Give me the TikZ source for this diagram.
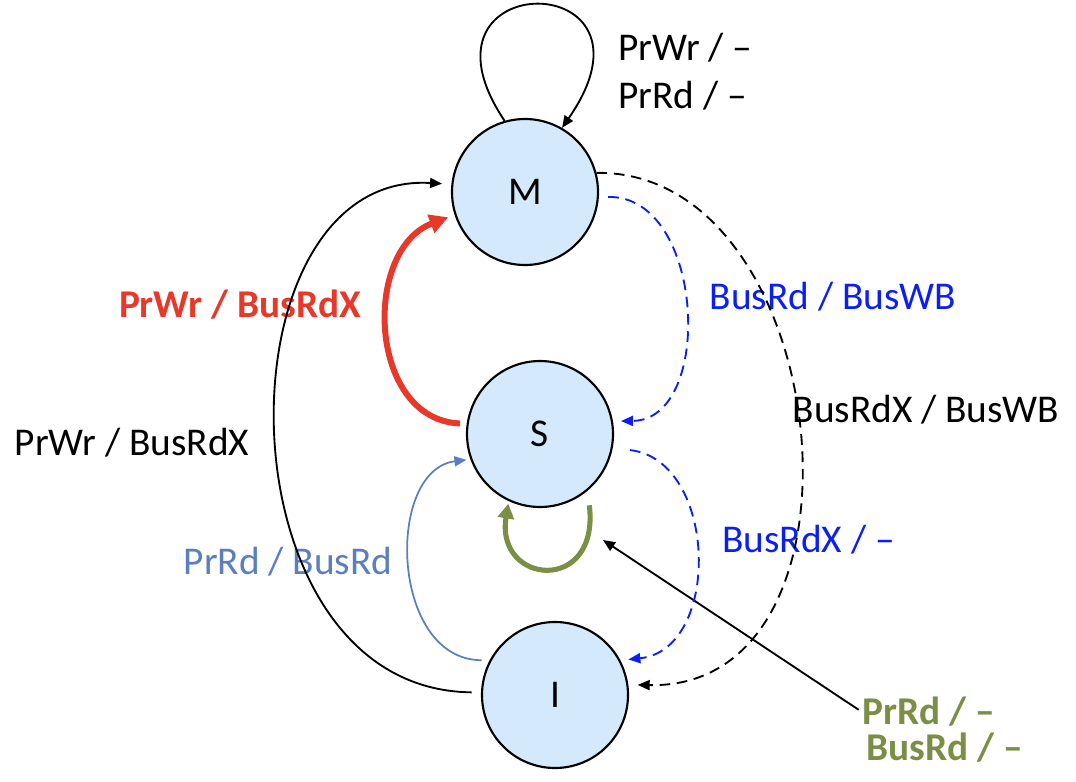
\documentclass[tikz,border=0pt]{standalone}
\usepackage{fontspec}
\setmainfont{Carlito}
\usetikzlibrary{arrows.meta}
\definecolor{nodefill}{HTML}{D4E9FB}
\definecolor{redc}{HTML}{E8382A}
\definecolor{bluec}{HTML}{0A1EF5}
\definecolor{grayblue}{HTML}{5A7EBE}
\definecolor{greenc}{HTML}{7A8F45}
\begin{document}
\begin{tikzpicture}[x=0.75pt,y=-0.75pt,
  state/.style={circle,draw=black,line width=1.6pt,fill=nodefill,minimum size=109.5pt,inner sep=0pt,font=\fontsize{29.5}{34}\selectfont},
  lbl/.style={font=\fontsize{29.5}{34}\selectfont,inner sep=0pt},
  thinarrow/.style={line width=1.4pt,-{Triangle[length=9pt,width=7.5pt]}},
  dasharrow/.style={line width=1.4pt,dash pattern=on 8pt off 5pt,-{Triangle[length=9pt,width=7.5pt]}},
]
\useasboundingbox (0,0) rectangle (1076,782);
\node[state] (M) at (525,192) {M};
\node[state] (S) at (540,434) {S};
\node[state] (I) at (555,695) {I};

% labels
\node[lbl,anchor=west] (l1) at (618,48) {PrWr / –};
\node[lbl,anchor=west] (l2) at (618,96) {PrRd / –};
\node[lbl,text=redc,font=\fontsize{29.5}{34}\selectfont\bfseries] (l3) at (240,305) {PrWr / BusRdX};
\node[lbl] (l4) at (132,443) {PrWr / BusRdX};
\node[lbl,text=grayblue] (l5) at (288,562) {PrRd / BusRd};
\node[lbl,text=bluec] (l6) at (833,297) {BusRd / BusWB};
\node[lbl] (l7) at (926,410) {BusRdX / BusWB};
\node[lbl,text=bluec,anchor=west] (l8) at (722,540) {BusRdX / –};
\node[lbl,text=greenc,anchor=west,font=\fontsize{29.5}{34}\selectfont\bfseries] (g1) at (862,712) {PrRd / –};
\node[lbl,text=greenc,anchor=west,font=\fontsize{29.5}{34}\selectfont\bfseries] (g2) at (866,748) {BusRd / –};

% self loop on M
\draw[thinarrow] (M.106) .. controls (400,-35) and (675,-35) .. (M.60);
% I -> M (black)
\draw[thinarrow,shorten <=7pt,shorten >=7pt] (I.178) .. controls (215,690) and (215,170) .. (M.174);
% S -> M (red)
\draw[redc,line width=4.5pt,-{Triangle[length=14pt,width=14pt]},shorten <=5pt,shorten >=5pt] (S.172) .. controls (368,420) and (362,250) .. (M.198);
% I -> S (gray blue)
\draw[grayblue,line width=1.3pt,-{Triangle[length=9pt,width=7.5pt]},shorten <=6pt,shorten >=3pt] (I.152) .. controls (390,660) and (385,470) .. (S.200);
% S self loop (green)
\draw[greenc,line width=3.8pt,-{Triangle[length=11pt,width=12pt]},shorten <=11pt,shorten >=2pt] (S.-50) .. controls (600,595) and (495,585) .. (S.-115);
% pointer from green label
\coordinate (gtip) at (603,540);
\draw[thinarrow,shorten <=3pt] (g1.west) -- (gtip);
% M -> I dashed black
\draw[dasharrow,shorten >=7pt] (M.15) .. controls (835,170) and (885,690) .. (I.8);
% M -> S dashed blue
\draw[dasharrow,bluec,shorten <=7pt,shorten >=6pt] (M.-4) .. controls (705,195) and (715,420) .. (S.10);
% S -> I dashed blue
\draw[dasharrow,bluec,shorten <=13pt,shorten >=6pt] (S.-11) .. controls (718,460) and (722,650) .. (I.28);
\end{tikzpicture}
\end{document}
